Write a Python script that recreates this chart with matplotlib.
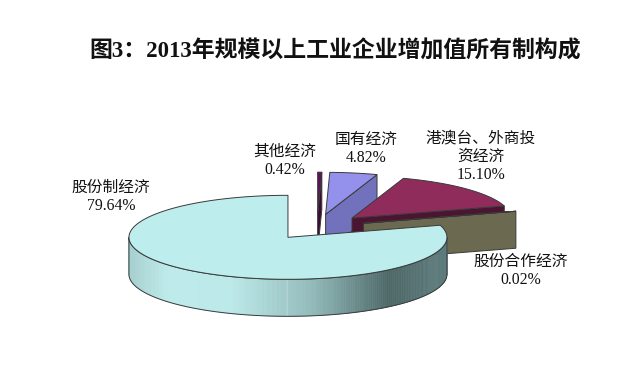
import numpy as np
import matplotlib
matplotlib.use('Agg')
import matplotlib.pyplot as plt
from matplotlib.patches import Polygon
from matplotlib.colors import LinearSegmentedColormap

# DATA
title = '图3：2013年规模以上工业企业增加值所有制构成'
names = ['其他经济', '国有经济', '港澳台、外商投\n资经济', '股份合作经济', '股份制经济']
shares = [0.42, 4.82, 15.10, 0.02, 79.64]
pct_labels = ['0.42%', '4.82%', '15.10%', '0.02%', '79.64%']

# STYLE / LAYOUT
top_colors = ['#62105c', '#9391ec', '#8f2c5c', '#6b6a50', '#bdeded']
face_colors = ['#3d0a36', '#7272bc', '#4b1430', '#6b6a50', '#9cc4c4']
label_pos = [(285, 161), (366, 149), (481, 157), (521, 271), (111, 197)]
side_cmap = LinearSegmentedColormap.from_list(
    'side', [(0.0, '#a6cfcf'), (0.12, '#bdeaea'), (0.32, '#bce9e9'),
             (0.58, '#92baba'), (0.82, '#4d6767'), (1.0, '#5e7c7c')])

CX, CY = 317.0, 227.0     # pie centre in pixels
RX, RY = 159.0, 42.0      # ellipse radii
DEPTH = 37.0
EXPLODE = 0.306
EDGE = '#3a3a3a'
LW = 0.7
lab_font = ['Liberation Serif', 'Noto Sans CJK SC']


def edge_pt(cx, cy, t):
    return np.array([cx + RX * np.cos(t), cy - RY * np.sin(t)])


def main():
    fig = plt.figure(figsize=(6.42, 3.80), dpi=100)
    ax = fig.add_axes([0, 0, 1, 1])
    ax.set_xlim(0, 642)
    ax.set_ylim(380, 0)
    ax.axis('off')

    cum = np.concatenate([[0], np.cumsum(shares)]) / np.sum(shares)
    for i in range(len(shares)):
        t0 = np.radians(90 - 360 * cum[i])       # upper boundary
        t1 = np.radians(90 - 360 * cum[i + 1])   # lower boundary (clockwise)
        mid = (t0 + t1) / 2
        cx = CX + EXPLODE * RX * np.cos(mid)
        cy = CY - EXPLODE * RY * np.sin(mid)
        apex = np.array([cx, cy])
        down = np.array([0, DEPTH])

        # cut faces
        for t, vis in [(t1, np.cos(t1) > 1e-3), (t0, np.cos(t0) < -1e-3)]:
            if vis:
                e = edge_pt(cx, cy, t)
                ax.add_patch(Polygon([apex, e, e + down, apex + down],
                                     closed=True, fc=face_colors[i], ec=EDGE, lw=LW))

        # outer side (front half only)
        for lo, hi in [(-np.pi, 0), (np.pi, 2 * np.pi)]:
            a, b = max(t1, lo), min(t0, hi)
            if b - a <= 0:
                continue
            ts = np.linspace(a, b, 200)
            xs_all = [edge_pt(cx, cy, t)[0] for t in ts]
            xmin, xmax = cx - RX, cx + RX
            for k in range(len(ts) - 1):
                p0 = edge_pt(cx, cy, ts[k])
                p1 = edge_pt(cx, cy, ts[k + 1])
                f = ((p0[0] + p1[0]) / 2 - xmin) / (xmax - xmin)
                ax.add_patch(Polygon([p0, p1, p1 + down, p0 + down], closed=True,
                                     fc=side_cmap(f), ec=side_cmap(f), lw=0.4))
            top = [edge_pt(cx, cy, t) for t in ts]
            bot = [p + down for p in top[::-1]]
            ax.add_patch(Polygon(top + bot, closed=True, fill=False, ec=EDGE, lw=LW))

        # top face
        ts = np.linspace(t1, t0, 300)
        pts = [apex] + [edge_pt(cx, cy, t) for t in ts]
        ax.add_patch(Polygon(pts, closed=True, fc=top_colors[i], ec=EDGE, lw=LW))

    for i in range(len(shares)):
        x, y = label_pos[i]
        ax.text(x, y, names[i] + '\n' + pct_labels[i], ha='center', va='center',
                fontsize=11.3, family=lab_font, linespacing=1.2, color='#111111')

    ax.text(335, 51, title, ha='center', va='center', fontsize=16.5,
            family=lab_font, fontweight='bold', color='#111111')

    fig.savefig('out.png', dpi=100, facecolor='white')


if __name__ == "__main__":
    main()
